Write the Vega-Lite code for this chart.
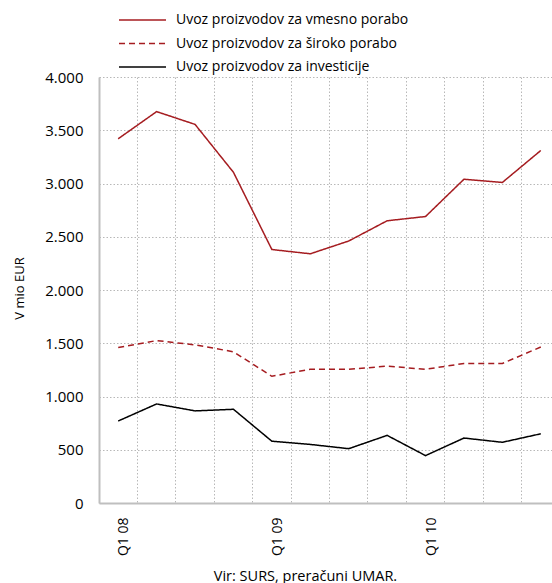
{
  "$schema": "https://vega.github.io/schema/vega-lite/v6.json",
  "width": 461,
  "height": 426,
  "autosize": {"type": "none"},
  "padding": {"left": 99, "top": 77, "right": 0, "bottom": 80},
  "background": "white",
  "data": {
    "values": [
      {"q": "Q1 08", "s": "Uvoz proizvodov za vmesno porabo", "v": 3420},
      {"q": "Q2 08", "s": "Uvoz proizvodov za vmesno porabo", "v": 3675},
      {"q": "Q3 08", "s": "Uvoz proizvodov za vmesno porabo", "v": 3555},
      {"q": "Q4 08", "s": "Uvoz proizvodov za vmesno porabo", "v": 3105},
      {"q": "Q1 09", "s": "Uvoz proizvodov za vmesno porabo", "v": 2380},
      {"q": "Q2 09", "s": "Uvoz proizvodov za vmesno porabo", "v": 2340},
      {"q": "Q3 09", "s": "Uvoz proizvodov za vmesno porabo", "v": 2460},
      {"q": "Q4 09", "s": "Uvoz proizvodov za vmesno porabo", "v": 2650},
      {"q": "Q1 10", "s": "Uvoz proizvodov za vmesno porabo", "v": 2690},
      {"q": "Q2 10", "s": "Uvoz proizvodov za vmesno porabo", "v": 3040},
      {"q": "Q3 10", "s": "Uvoz proizvodov za vmesno porabo", "v": 3010},
      {"q": "Q4 10", "s": "Uvoz proizvodov za vmesno porabo", "v": 3310},
      {"q": "Q1 08", "s": "Uvoz proizvodov za široko porabo", "v": 1460},
      {"q": "Q2 08", "s": "Uvoz proizvodov za široko porabo", "v": 1525},
      {"q": "Q3 08", "s": "Uvoz proizvodov za široko porabo", "v": 1485},
      {"q": "Q4 08", "s": "Uvoz proizvodov za široko porabo", "v": 1420},
      {"q": "Q1 09", "s": "Uvoz proizvodov za široko porabo", "v": 1190},
      {"q": "Q2 09", "s": "Uvoz proizvodov za široko porabo", "v": 1255},
      {"q": "Q3 09", "s": "Uvoz proizvodov za široko porabo", "v": 1255},
      {"q": "Q4 09", "s": "Uvoz proizvodov za široko porabo", "v": 1285},
      {"q": "Q1 10", "s": "Uvoz proizvodov za široko porabo", "v": 1255},
      {"q": "Q2 10", "s": "Uvoz proizvodov za široko porabo", "v": 1310},
      {"q": "Q3 10", "s": "Uvoz proizvodov za široko porabo", "v": 1310},
      {"q": "Q4 10", "s": "Uvoz proizvodov za široko porabo", "v": 1465},
      {"q": "Q1 08", "s": "Uvoz proizvodov za investicije", "v": 770},
      {"q": "Q2 08", "s": "Uvoz proizvodov za investicije", "v": 930},
      {"q": "Q3 08", "s": "Uvoz proizvodov za investicije", "v": 865},
      {"q": "Q4 08", "s": "Uvoz proizvodov za investicije", "v": 880},
      {"q": "Q1 09", "s": "Uvoz proizvodov za investicije", "v": 580},
      {"q": "Q2 09", "s": "Uvoz proizvodov za investicije", "v": 550},
      {"q": "Q3 09", "s": "Uvoz proizvodov za investicije", "v": 510},
      {"q": "Q4 09", "s": "Uvoz proizvodov za investicije", "v": 635},
      {"q": "Q1 10", "s": "Uvoz proizvodov za investicije", "v": 445},
      {"q": "Q2 10", "s": "Uvoz proizvodov za investicije", "v": 610},
      {"q": "Q3 10", "s": "Uvoz proizvodov za investicije", "v": 570},
      {"q": "Q4 10", "s": "Uvoz proizvodov za investicije", "v": 650}
    ]
  },
  "mark": {"type": "line", "strokeWidth": 1.5},
  "encoding": {
    "x": {
      "field": "q",
      "type": "nominal",
      "sort": null,
      "bandPosition": 0.5,
      "scale": {"type": "band", "paddingInner": 0, "paddingOuter": 0},
      "axis": {
        "title": "Vir: SURS, preračuni UMAR.",
        "titleFont": "Open Sans",
        "titleFontSize": 14.5,
        "titleFontWeight": "normal",
        "titleColor": "#000000",
        "titleX": 206,
        "titleY": 77,
        "titleBaseline": "alphabetic",
        "labelExpr": "indexof(datum.value, 'Q1') === 0 ? datum.value : ''",
        "labelAngle": 270,
        "labelFont": "Open Sans",
        "labelFontSize": 14,
        "labelColor": "#000000",
        "labelPadding": 14,
        "labelOffset": 6,
        "bandPosition": 0,
        "ticks": false,
        "grid": true,
        "gridColor": "#b8b8b8",
        "gridDash": [1.5, 2],
        "gridWidth": 1,
        "domainColor": "#bfbfbf",
        "domainWidth": 2
      }
    },
    "y": {
      "field": "v",
      "type": "quantitative",
      "scale": {"domain": [0, 4000], "nice": false},
      "axis": {
        "title": "V mio EUR",
        "titleFont": "Open Sans",
        "titleFontSize": 13,
        "titleFontWeight": "normal",
        "titleColor": "#000000",
        "titleX": -80,
        "titleY": 211,
        "titleAngle": 270,
        "titleBaseline": "middle",
        "titleAlign": "center",
        "values": [0, 500, 1000, 1500, 2000, 2500, 3000, 3500, 4000],
        "labelExpr": "replace(format(datum.value, ','), ',', '.')",
        "labelFont": "Open Sans",
        "labelFontSize": 15,
        "labelColor": "#000000",
        "labelPadding": 16,
        "ticks": false,
        "grid": true,
        "gridColor": "#b8b8b8",
        "gridDash": [1.5, 2],
        "gridWidth": 1,
        "domainColor": "#bfbfbf",
        "domainWidth": 2
      }
    },
    "color": {
      "field": "s",
      "type": "nominal",
      "sort": null,
      "scale": {
        "domain": ["Uvoz proizvodov za vmesno porabo", "Uvoz proizvodov za široko porabo", "Uvoz proizvodov za investicije"],
        "range": ["#a51c20", "#a51c20", "#000000"]
      },
      "legend": {
        "title": null,
        "orient": "none",
        "legendX": 31,
        "legendY": -69.5,
        "symbolType": "M-2,0H2",
        "symbolSize": 552,
        "symbolStrokeWidth": 1.5,
        "labelFont": "Open Sans",
        "labelFontSize": 14,
        "labelColor": "#000000",
        "labelOffset": 21,
        "rowPadding": 3.5,
        "labelLimit": 400
      }
    },
    "strokeDash": {
      "field": "s",
      "type": "nominal",
      "sort": null,
      "scale": {
        "domain": ["Uvoz proizvodov za vmesno porabo", "Uvoz proizvodov za široko porabo", "Uvoz proizvodov za investicije"],
        "range": [[1, 0], [6, 4], [1, 0]]
      }
    }
  },
  "config": {"view": {"stroke": null}}
}
